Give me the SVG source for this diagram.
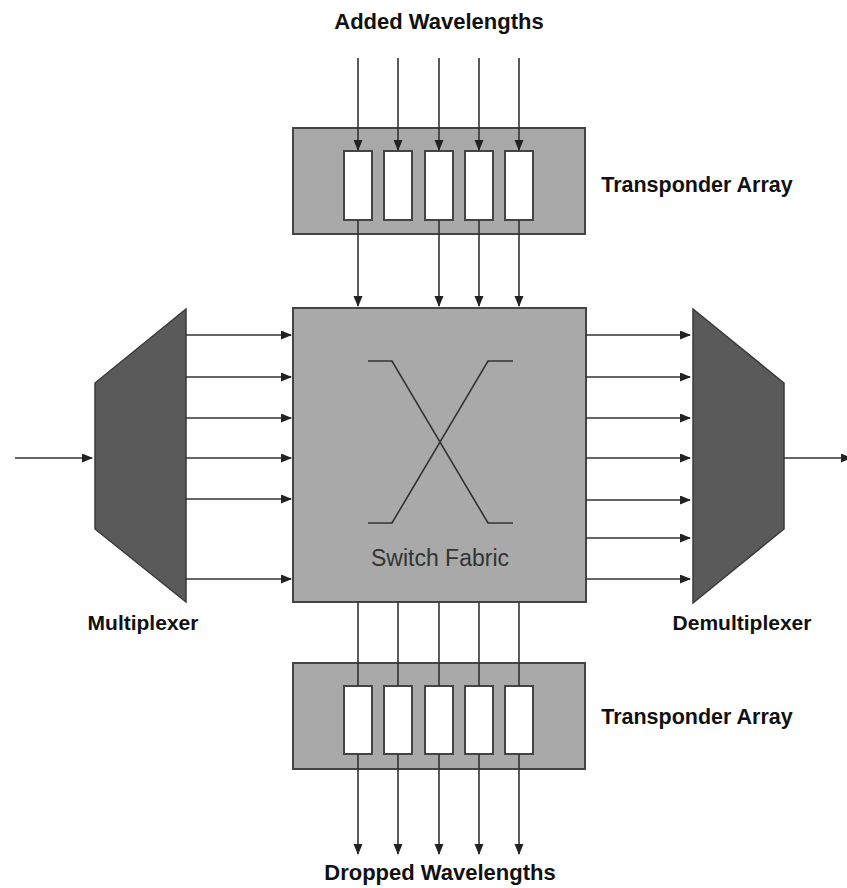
<svg xmlns="http://www.w3.org/2000/svg" width="847" height="888" viewBox="0 0 847 888">
<defs>
<marker id="ah" markerWidth="11" markerHeight="10" refX="10" refY="4.5" orient="auto" markerUnits="userSpaceOnUse">
<path d="M0,0 L11,4.5 L0,9 Z" fill="#222"/>
</marker>
<style>
.box{fill:#a9a9a9;stroke:#444;stroke-width:2}
.cell{fill:#ffffff;stroke:#444;stroke-width:2}
.dark{fill:#5a5a5a;stroke:#3a3a3a;stroke-width:1.5}
.ln{stroke:#333;stroke-width:1.6;fill:none}
.arr{stroke:#333;stroke-width:1.6;fill:none;marker-end:url(#ah)}
.lbl{font-family:"Liberation Sans",Arial,sans-serif;font-weight:bold;fill:#111;text-anchor:middle}
.sf{font-family:"Liberation Sans",Arial,sans-serif;fill:#333;text-anchor:middle;font-size:23px}
</style>
</defs>
<rect width="847" height="888" fill="#ffffff"/>

<g id="switch-fabric">
<rect class="box" x="293" y="308" width="293" height="294"/>
<path class="ln" d="M368,361 H392 L488,523 H513 M513,361 H488 L392,523 H368" stroke-width="2"/>
<text class="sf" x="440" y="566">Switch Fabric</text>
</g>

<g id="transponder-top">
<rect class="box" x="293" y="128" width="292" height="106"/>
<rect class="cell" x="344" y="151" width="28" height="69"/>
<rect class="cell" x="384" y="151" width="28" height="69"/>
<rect class="cell" x="425" y="151" width="28" height="69"/>
<rect class="cell" x="465" y="151" width="28" height="69"/>
<rect class="cell" x="505" y="151" width="28" height="69"/>
</g>

<g id="transponder-bottom">
<rect class="box" x="293" y="663" width="292" height="106"/>
<rect class="cell" x="344" y="686" width="28" height="68"/>
<rect class="cell" x="384" y="686" width="28" height="68"/>
<rect class="cell" x="425" y="686" width="28" height="68"/>
<rect class="cell" x="465" y="686" width="28" height="68"/>
<rect class="cell" x="505" y="686" width="28" height="68"/>
</g>

<g id="multiplexer">
<polygon class="dark" points="186,309 186,602 95,529 95,383"/>
</g>

<g id="demultiplexer">
<polygon class="dark" points="693,309 693,603 784,529 784,383"/>
</g>

<g id="connectors">
<line class="arr" x1="358" y1="58" x2="358" y2="150"/>
<line class="arr" x1="398" y1="58" x2="398" y2="150"/>
<line class="arr" x1="439" y1="58" x2="439" y2="150"/>
<line class="arr" x1="479" y1="58" x2="479" y2="150"/>
<line class="arr" x1="519" y1="58" x2="519" y2="150"/>
<line class="arr" x1="358" y1="220" x2="358" y2="306"/>
<line class="arr" x1="439" y1="220" x2="439" y2="306"/>
<line class="arr" x1="479" y1="220" x2="479" y2="306"/>
<line class="arr" x1="519" y1="220" x2="519" y2="306"/>
<line class="ln" x1="358" y1="602" x2="358" y2="686"/>
<line class="ln" x1="398" y1="602" x2="398" y2="686"/>
<line class="ln" x1="439" y1="602" x2="439" y2="686"/>
<line class="ln" x1="479" y1="602" x2="479" y2="686"/>
<line class="ln" x1="519" y1="602" x2="519" y2="686"/>
<line class="arr" x1="358" y1="754" x2="358" y2="854"/>
<line class="arr" x1="398" y1="754" x2="398" y2="854"/>
<line class="arr" x1="439" y1="754" x2="439" y2="854"/>
<line class="arr" x1="479" y1="754" x2="479" y2="854"/>
<line class="arr" x1="519" y1="754" x2="519" y2="854"/>
<line class="arr" x1="15" y1="458" x2="92" y2="458"/>
<line class="arr" x1="186" y1="335" x2="291" y2="335"/>
<line class="arr" x1="186" y1="377" x2="291" y2="377"/>
<line class="arr" x1="186" y1="418" x2="291" y2="418"/>
<line class="arr" x1="186" y1="458" x2="291" y2="458"/>
<line class="arr" x1="186" y1="499" x2="291" y2="499"/>
<line class="arr" x1="186" y1="579" x2="291" y2="579"/>
<line class="arr" x1="586" y1="335" x2="690" y2="335"/>
<line class="arr" x1="586" y1="377" x2="690" y2="377"/>
<line class="arr" x1="586" y1="418" x2="690" y2="418"/>
<line class="arr" x1="586" y1="458" x2="690" y2="458"/>
<line class="arr" x1="586" y1="500" x2="690" y2="500"/>
<line class="arr" x1="586" y1="538" x2="690" y2="538"/>
<line class="arr" x1="586" y1="579" x2="690" y2="579"/>
<line class="arr" x1="784" y1="458" x2="851" y2="458"/>
</g>

<g id="labels">
<text class="lbl" x="439" y="29" font-size="22">Added Wavelengths</text>
<text class="lbl" x="697" y="192" font-size="21.5">Transponder Array</text>
<text class="lbl" x="697" y="724" font-size="21.5">Transponder Array</text>
<text class="lbl" x="143" y="630" font-size="21">Multiplexer</text>
<text class="lbl" x="742" y="630" font-size="21">Demultiplexer</text>
<text class="lbl" x="440" y="880" font-size="22">Dropped Wavelengths</text>
</g>
</svg>
